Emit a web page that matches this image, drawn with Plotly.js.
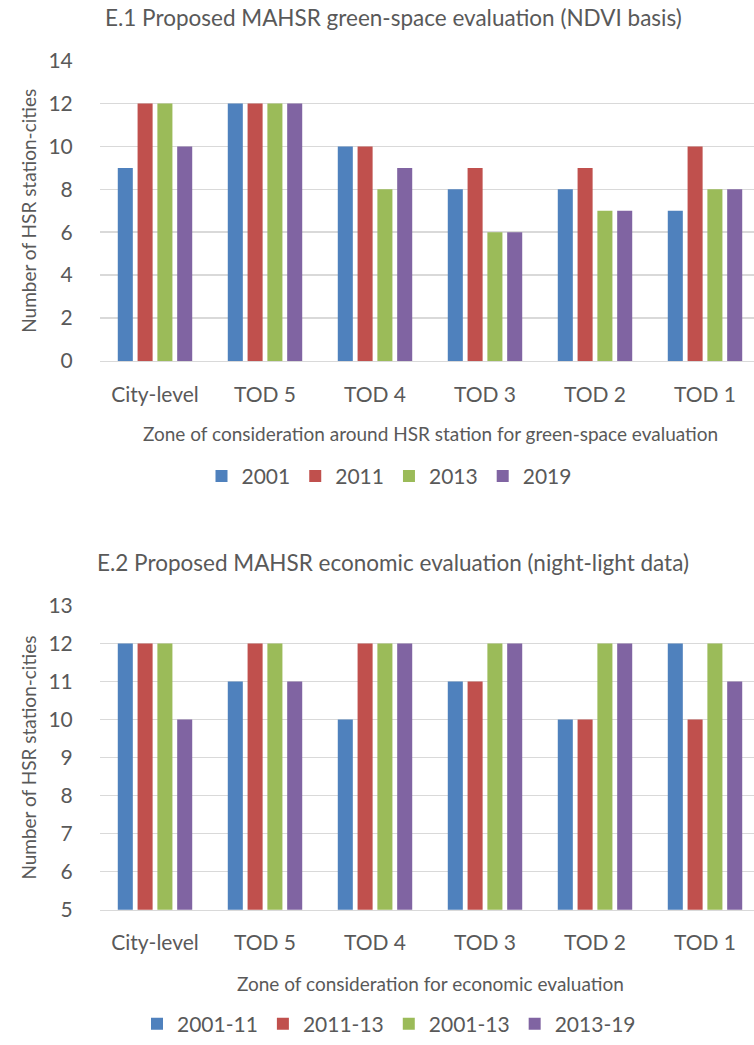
<!DOCTYPE html>
<html>
<head>
<meta charset="utf-8">
<script src="https://cdn.plot.ly/plotly-3.0.1.min.js"></script>
<style>html,body{margin:0;padding:0;background:#fff;}#chart{width:754px;height:1045px;}</style>
</head>
<body>
<div id="chart"></div>
<script>
const categories = ["City-level", "TOD 5", "TOD 4", "TOD 3", "TOD 2", "TOD 1"];

const greenSeriesNames = ["2001", "2011", "2013", "2019"];
const green2001 = [9, 12, 10, 8, 8, 7];
const green2011 = [12, 12, 10, 9, 9, 10];
const green2013 = [12, 12, 8, 6, 7, 8];
const green2019 = [10, 12, 9, 6, 7, 8];

const econSeriesNames = ["2001-11", "2011-13", "2001-13", "2013-19"];
const econ2001_11 = [12, 11, 10, 11, 10, 12];
const econ2011_13 = [12, 12, 12, 11, 10, 10];
const econ2001_13 = [12, 12, 12, 12, 12, 12];
const econ2013_19 = [10, 11, 12, 12, 12, 11];

const colors = ["#4F81BD", "#C0504D", "#9BBB59", "#8064A2"];
const FONT = "Lato, Open Sans, sans-serif";
const TXT = "#595959";

const greenVals = [green2001, green2011, green2013, green2019];
const econVals = [econ2001_11, econ2011_13, econ2001_13, econ2013_19];

const traces = [];
greenVals.forEach((v, i) => traces.push({
  type: "bar", x: categories, y: v, name: greenSeriesNames[i],
  marker: {color: colors[i]}, xaxis: "x", yaxis: "y", legend: "legend",
  hoverinfo: "x+y+name"
}));
econVals.forEach((v, i) => traces.push({
  type: "bar", x: categories, y: v, name: econSeriesNames[i],
  marker: {color: colors[i]}, xaxis: "x2", yaxis: "y2", legend: "legend2",
  hoverinfo: "x+y+name"
}));

const W = 754, H = 1045;
const py = p => 1 - p / H;
const pxp = p => (p - 100) / 654;
const xr = [-0.5, 5.5 - 6 / 110];

const xcommon = {
  type: "category", range: xr, showgrid: false, showline: true,
  linecolor: "#d9d9d9", linewidth: 1.5, ticks: "outside", ticklen: 14,
  tickcolor: "rgba(0,0,0,0)", tickfont: {family: FONT, size: 21, color: TXT},
  domain: [0, 1], fixedrange: true
};
const ycommon = {
  showgrid: true, gridcolor: "#d9d9d9", gridwidth: 1.5, zeroline: false,
  showline: false, ticks: "outside", ticklen: 22, tickcolor: "rgba(0,0,0,0)",
  tickfont: {family: FONT, size: 21, color: TXT}, fixedrange: true
};

const layout = {
  width: W, height: H,
  margin: {l: 100, r: 0, t: 0, b: 0},
  paper_bgcolor: "#fff", plot_bgcolor: "#fff",
  barmode: "group", bargap: 0.28, bargroupgap: 0.24,
  font: {family: FONT, color: TXT},
  xaxis: Object.assign({}, xcommon, {anchor: "y"}),
  yaxis: Object.assign({}, ycommon, {domain: [py(363), py(61)], range: [0, 14], dtick: 2, anchor: "x"}),
  xaxis2: Object.assign({}, xcommon, {anchor: "y2"}),
  yaxis2: Object.assign({}, ycommon, {domain: [py(915), py(609)], range: [5, 13], dtick: 1, anchor: "x2"}),
  legend: {
    orientation: "h", x: pxp(389), xref: "paper", xanchor: "center",
    y: py(479), yanchor: "middle", font: {family: FONT, size: 21, color: TXT},
    itemwidth: 30, bgcolor: "rgba(0,0,0,0)"
  },
  legend2: {
    orientation: "h", x: pxp(389), xref: "paper", xanchor: "center",
    y: py(1030), yanchor: "middle", font: {family: FONT, size: 21, color: TXT},
    itemwidth: 30, bgcolor: "rgba(0,0,0,0)"
  },
  annotations: [
    {text: "E.1 Proposed MAHSR green-space evaluation (NDVI basis)", xref: "paper", yref: "paper",
     x: pxp(393), y: py(18), xanchor: "center", yanchor: "middle", showarrow: false,
     font: {family: FONT, size: 22.5, color: TXT}},
    {text: "E.2 Proposed MAHSR economic evaluation (night-light data)", xref: "paper", yref: "paper",
     x: pxp(393), y: py(566), xanchor: "center", yanchor: "middle", showarrow: false,
     font: {family: FONT, size: 22.5, color: TXT}},
    {text: "Zone of consideration around HSR station for green-space evaluation", xref: "paper", yref: "paper",
     x: pxp(430), y: py(436), xanchor: "center", yanchor: "middle", showarrow: false,
     font: {family: FONT, size: 19, color: TXT}},
    {text: "Zone of consideration for economic evaluation", xref: "paper", yref: "paper",
     x: pxp(430), y: py(989), xanchor: "center", yanchor: "middle", showarrow: false,
     font: {family: FONT, size: 19, color: TXT}},
    {text: "Number of HSR station-cities", xref: "paper", yref: "paper", textangle: -90,
     x: pxp(29), y: py(212), xanchor: "center", yanchor: "middle", showarrow: false,
     font: {family: FONT, size: 19, color: TXT}},
    {text: "Number of HSR station-cities", xref: "paper", yref: "paper", textangle: -90,
     x: pxp(29), y: py(762), xanchor: "center", yanchor: "middle", showarrow: false,
     font: {family: FONT, size: 19, color: TXT}}
  ]
};

Plotly.newPlot("chart", traces, layout, {displayModeBar: false, staticPlot: true});
</script>
</body>
</html>
